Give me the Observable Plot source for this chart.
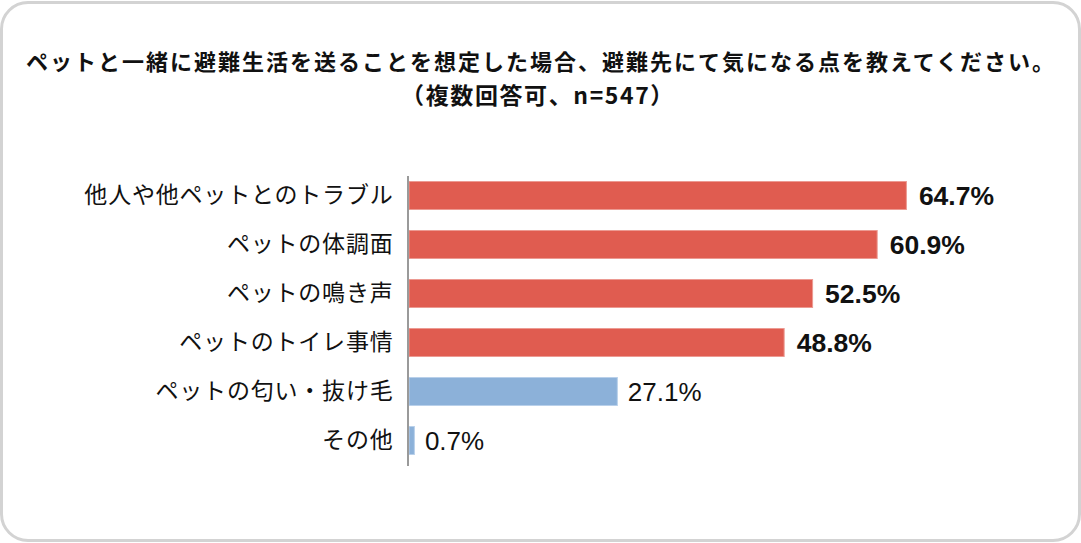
<!DOCTYPE html>
<html>
<head>
<meta charset="utf-8">
<script src="https://cdn.jsdelivr.net/npm/d3@7"></script>
<script src="https://cdn.jsdelivr.net/npm/@observablehq/plot@0.6"></script>
<style>
  html, body { margin: 0; padding: 0; background: #fff; }
  #wrap { position: relative; width: 1081px; height: 543px; overflow: hidden; font-family: "Noto Sans CJK JP", "Noto Sans", sans-serif; }
  #frame { position: absolute; left: 0; top: 1px; width: 1081px; height: 541px; box-sizing: border-box; border: 3px solid #d3d3d3; border-radius: 28px; }
  .title { position: absolute; transform: translateX(-50%); white-space: nowrap; font-weight: bold; color: #111; line-height: 1; }
  #t1 { left: 541px; top: 49px; font-size: 22px; letter-spacing: 2px; }
  #t2 { left: 538px; top: 83px; font-size: 23px; letter-spacing: 1.6px; }
  #chart { position: absolute; left: 0; top: 0; }
  #chart g[aria-label="y-axis tick label"] text { letter-spacing: 0.8px; }
</style>
</head>
<body>
<div id="wrap">
  <div id="frame"></div>
  <div class="title" id="t1">ペットと一緒に避難生活を送ることを想定した場合、避難先にて気になる点を教えてください。</div>
  <div class="title" id="t2">（複数回答可、n=547）</div>
  <div id="chart"></div>
</div>
<script>
const categories = ["他人や他ペットとのトラブル", "ペットの体調面", "ペットの鳴き声", "ペットのトイレ事情", "ペットの匂い・抜け毛", "その他"];
const values = [64.7, 60.9, 52.5, 48.8, 27.1, 0.7];
const highlight = [true, true, true, true, false, false];

const data = categories.map((c, i) => ({ category: c, value: values[i], hi: highlight[i] }));

const red = "#e05c50", blue = "#8cb1d9";

const plot = Plot.plot({
  width: 1081,
  height: 543,
  marginTop: 176,
  marginBottom: 77,
  marginLeft: 409,
  marginRight: 57,
  style: { fontFamily: "'Noto Sans CJK JP', sans-serif", background: "transparent", color: "#111" },
  x: { domain: [0, 80], axis: null },
  y: { domain: categories, paddingInner: 0.41, paddingOuter: 0.163, align: 0.31, label: null },
  marks: [
    Plot.axisY({ tickSize: 0, tickPadding: 16, fontSize: 23, label: null, fill: "#111" }),
    Plot.barX(data, { y: "category", x: "value", fill: d => d.hi ? red : blue, stroke: d => d.hi ? "#ec9a92" : "#b9d0ea", strokeWidth: 1, insetTop: 0.5, insetBottom: 0.5 }),
    Plot.ruleX([0], { stroke: "#9a9a9a", strokeWidth: 2, dx: -1.5 }),
    Plot.text(data.filter(d => d.hi), { y: "category", x: "value", text: d => d.value.toFixed(1) + "%", textAnchor: "start", dx: 12, dy: 1, fontSize: 26.5, fontWeight: "bold", fill: "#111", fontFamily: "'Liberation Sans', Arial, sans-serif" }),
    Plot.text(data.filter(d => !d.hi), { y: "category", x: "value", text: d => d.value.toFixed(1) + "%", textAnchor: "start", dx: 10, dy: 1, fontSize: 26, fill: "#111", fontFamily: "'Liberation Sans', Arial, sans-serif" })
  ]
});
document.getElementById("chart").appendChild(plot);
</script>
</body>
</html>
